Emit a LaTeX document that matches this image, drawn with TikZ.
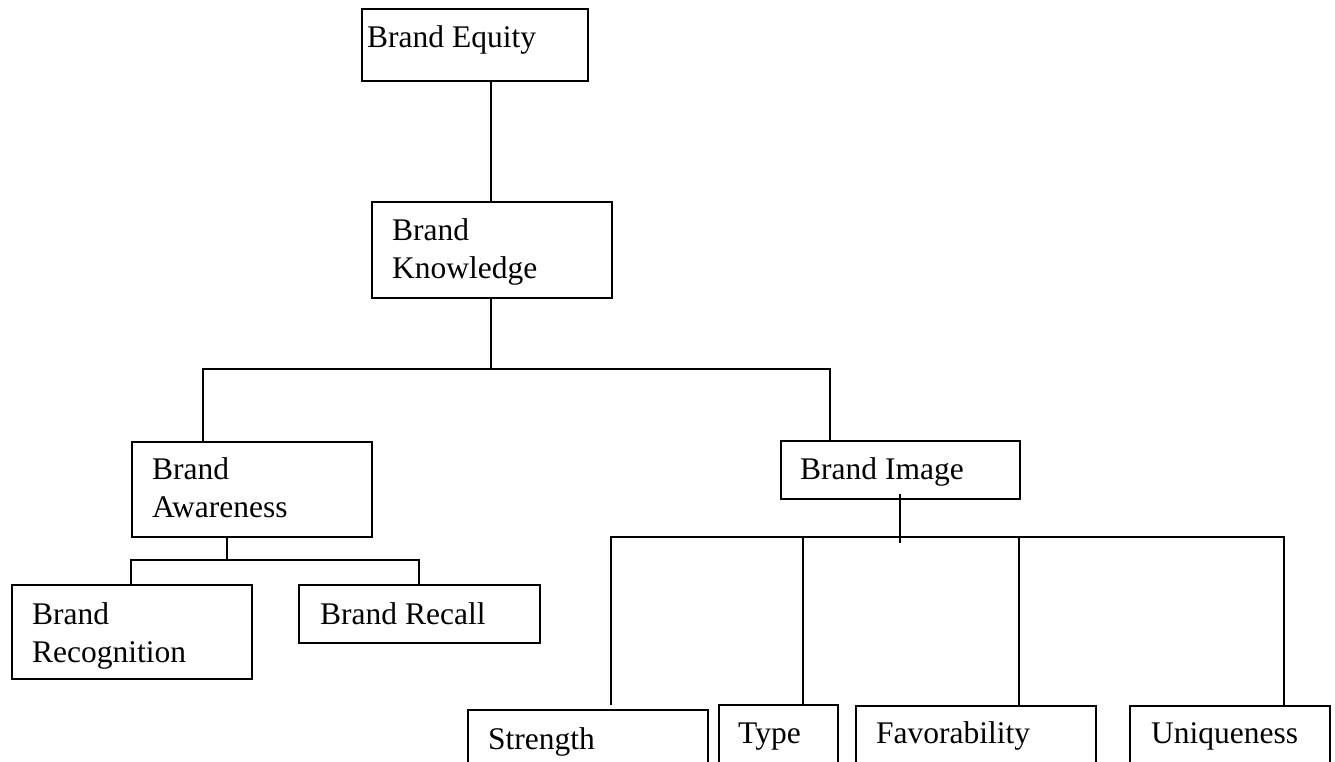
\documentclass[tikz,border=0pt]{standalone}
\usepackage{fontspec}
\setmainfont{Liberation Serif}
\begin{document}
\begin{tikzpicture}[x=1pt,y=-1pt,
  box/.style={draw, line width=2pt, rectangle, inner sep=0pt, anchor=north west},
  lbl/.style={anchor=base west, inner sep=0pt, font=\fontsize{31.5}{38}\selectfont},
  wire/.style={line width=2pt}]
\useasboundingbox (0,0) rectangle (1335,761);
\clip (0,0) rectangle (1335,761);

% boxes
\node[box, minimum width=226pt, minimum height=72pt] (eq) at (361,8) {};
\node[box, minimum width=240pt, minimum height=96pt] (kn) at (371,201) {};
\node[box, minimum width=240pt, minimum height=95pt] (aw) at (131,441) {};
\node[box, minimum width=239pt, minimum height=58pt] (im) at (780,440) {};
\node[box, minimum width=240pt, minimum height=94pt] (rg) at (11,584) {};
\node[box, minimum width=241pt, minimum height=58pt] (rc) at (298,584) {};
\node[box, minimum width=240pt, minimum height=90pt] (st) at (467,709) {};
\node[box, minimum width=119pt, minimum height=90pt] (ty) at (718,704) {};
\node[box, minimum width=240pt, minimum height=90pt] (fa) at (855,705) {};
\node[box, minimum width=200pt, minimum height=90pt] (un) at (1129,705) {};

% labels
\node[lbl] (eqt) at (367,47) {Brand Equity};
\node[lbl] (knt1) at (392,240) {Brand};
\node[lbl] (knt2) at (392,278) {Knowledge};
\node[lbl] (awt1) at (152,479) {Brand};
\node[lbl] (awt2) at (152,517) {Awareness};
\node[lbl] (imt) at (800,479) {Brand Image};
\node[lbl] (rgt1) at (32,624) {Brand};
\node[lbl] (rgt2) at (32,662) {Recognition};
\node[lbl] (rct) at (320,624) {Brand Recall};
\node[lbl] (stt) at (488,749) {Strength};
\node[lbl] (tyt) at (738,743) {Type};
\node[lbl] (fat) at (876,743) {Favorability};
\node[lbl] (unt) at (1151,743) {Uniqueness};

% junction points
\coordinate (j0) at (491,369);
\coordinate (bl) at (203,369);
\coordinate (br) at (830,369);
\coordinate (a0) at (227,560);
\coordinate (al) at (131,560);
\coordinate (ar) at (419,560);
\coordinate (i0) at (900,494);
\coordinate (i1) at (900,543);
\coordinate (il) at (611,537);
\coordinate (ir) at (1284,537);
\coordinate (s0) at (611,705);
\coordinate (t0) at (803,537);
\coordinate (f0) at (1019,537);

% connectors
\draw[wire] (eq.south -| j0) -- (kn.north -| j0);
\draw[wire] (kn.south -| j0) -- (j0);
\draw[wire] (aw.north -| bl) -- (bl) -- (br) -- (im.north -| br);
\draw[wire] (aw.south -| a0) -- (a0);
\draw[wire] (rg.north -| al) -- (al) -- (ar) -- (rc.north -| ar);
\draw[wire] (i0) -- (i1);
\draw[wire] (s0) -- (il) -- (ir) -- (un.north -| ir);
\draw[wire] (t0) -- (ty.north -| t0);
\draw[wire] (f0) -- (fa.north -| f0);
\end{tikzpicture}
\end{document}
